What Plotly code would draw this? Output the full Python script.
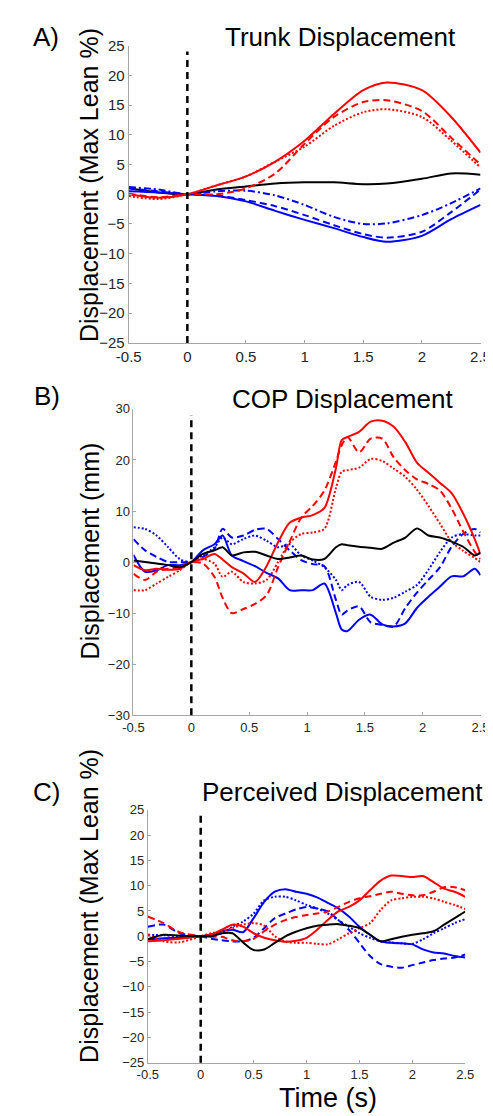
import plotly.graph_objects as go

# ---------------- Panel A: Trunk Displacement ----------------
tA = [-0.5, -0.25, 0, 0.25, 0.5, 0.75, 1.0, 1.25, 1.5, 1.7, 2.0, 2.25, 2.5]
A_red_solid  = [0.0, -0.6, 0, 1.5, 3.0, 5.5, 9.0, 13.5, 17.5, 18.8, 17.5, 13.0, 7.0]
A_red_dash   = [0.1, -0.5, 0, 0.0, 1.0, 3.5, 8.5, 13.0, 15.5, 15.8, 14.0, 9.5, 5.0]
A_red_dot    = [-0.3, -0.8, 0, 1.5, 3.0, 5.5, 8.0, 11.5, 13.8, 14.3, 13.0, 9.0, 4.5]
A_black      = [1.0, 0.3, 0, 0.8, 1.3, 1.8, 2.0, 2.0, 1.7, 1.8, 2.6, 3.5, 3.3]
A_blue_solid = [0.5, 0.3, 0, -0.3, -1.2, -2.8, -4.3, -5.7, -7.2, -8.0, -7.0, -4.2, -1.8]
A_blue_dash  = [1.0, 0.5, 0, -0.2, -1.0, -2.0, -3.5, -5.2, -6.7, -7.3, -6.3, -3.0, 0.8]
A_blue_dashdot = [1.2, 0.8, 0, 0.5, 0.6, -0.2, -1.8, -3.8, -5.0, -4.9, -3.5, -1.5, 1.0]

# ---------------- Panel B: COP Displacement ----------------
tB = [-0.5, -0.4, -0.3, -0.2, -0.1, 0, 0.1, 0.2, 0.27, 0.35, 0.45, 0.55, 0.65, 0.75,
      0.85, 0.95, 1.05, 1.15, 1.25, 1.3, 1.35, 1.45, 1.55, 1.65, 1.75, 1.85, 1.95,
      2.05, 2.15, 2.25, 2.35, 2.45, 2.5]
B_red_solid  = [-0.6, -1.6, -1.3, -1.5, -1.3, 0, 0.6, 1.6, 0.5, -1.0, -2.2, -3.9, -0.8, 3.9,
                7.7, 8.7, 9.2, 10.6, 18.4, 23.9, 24.5, 25.5, 27.5, 27.7, 26.5, 23.5, 19.5,
                17.5, 15.5, 13.5, 9.5, 4.5, 1.5]
B_red_dash   = [-2.3, -3.5, -1.9, -1.3, -1.0, 0, -0.3, -2.9, -7.0, -10.0, -9.2, -8.2, -6.5, -1.0,
                4.0, 8.7, 11.0, 14.0, 19.7, 22.9, 24.5, 21.5, 24.2, 24.2, 20.5, 18.0, 16.2,
                15.3, 14.0, 10.5, 6.0, 2.0, 0.6]
B_red_dot    = [-5.5, -5.5, -4.2, -2.9, -1.6, 0, 0.6, -0.3, -2.9, -1.9, -3.9, -4.2, -3.5, 0.0,
                3.8, 5.5, 5.8, 6.5, 14.5, 17.7, 18.0, 18.5, 20.2, 19.8, 18.3, 16.7, 14.2,
                11.0, 7.5, 4.0, 2.2, 0.8, 0.0]
B_black      = [0.3, 0.0, -0.3, -0.6, -1.0, 0, 1.6, 2.3, 2.9, 1.3, 1.9, 2.0, 1.3, 0.6,
                0.9, 1.3, 0.5, 0.6, 2.9, 3.5, 3.3, 3.0, 2.8, 2.6, 3.8, 4.8, 6.6,
                5.2, 4.8, 4.0, 3.0, 1.3, 1.9]
B_blue_solid = [1.4, -1.9, -1.6, -0.6, -0.6, 0, 2.3, 3.5, 5.2, 1.3, 0.2, -0.8, -2.1, -3.2,
                -5.5, -5.5, -5.5, -4.2, -10.0, -13.2, -13.5, -11.3, -10.3, -12.2, -12.6, -12.0, -9.0,
                -6.8, -4.8, -2.8, -2.8, -1.3, -2.6]
B_blue_dash  = [4.5, 2.3, 1.0, 0.0, 0.0, 0, 1.0, 2.6, 6.5, 4.8, 5.2, 6.3, 6.5, 4.5,
                2.3, 0.4, -0.4, -0.8, -7.4, -10.3, -9.5, -8.7, -11.8, -12.3, -12.6, -9.0, -6.0,
                -3.5, -1.0, 3.0, 5.5, 6.5, 5.8]
B_blue_dot   = [6.8, 6.5, 5.2, 2.9, 0.6, 0, 1.3, 2.9, 4.8, 3.5, 4.5, 5.2, 4.2, 2.9,
                3.5, 1.3, 0.3, -1.0, -3.5, -5.5, -4.5, -3.9, -6.8, -7.4, -7.0, -5.8, -4.5,
                -1.5, 2.0, 4.8, 5.5, 5.2, 5.2]

# ---------------- Panel C: Perceived Displacement ----------------
tC = [-0.5, -0.35, -0.2, 0, 0.1, 0.2, 0.3, 0.4, 0.5, 0.6, 0.7, 0.8, 0.9, 1.0, 1.1, 1.2,
      1.3, 1.4, 1.5, 1.6, 1.7, 1.8, 1.9, 2.0, 2.1, 2.2, 2.3, 2.4, 2.5]
C_red_solid  = [-1.0, -0.8, -0.5, 0, 0.3, 1.3, 2.3, 1.9, 0.6, -0.3, -0.8, -1.1, -0.9, -0.3, 1.3, 3.2,
                4.9, 5.8, 7.1, 9.1, 11.0, 12.0, 11.9, 11.7, 11.9, 10.7, 9.4, 8.8, 7.8]
C_red_dash   = [3.9, 2.6, 0.8, 0, -0.1, -0.1, -0.8, -1.0, -0.5, 1.0, 2.3, 3.2, 3.8, 4.2, 4.5, 4.9,
                5.8, 6.8, 7.5, 7.9, 8.4, 8.8, 8.4, 8.1, 8.1, 8.8, 9.7, 9.7, 9.1]
C_red_dot    = [0.3, -1.0, -1.2, 0, 0.6, 1.0, 1.6, 2.3, 2.6, 2.1, 0.0, -1.0, -1.3, -1.3, -1.5, -1.6,
                -0.6, 0.6, 1.6, 2.6, 5.2, 7.1, 7.5, 7.8, 7.8, 7.5, 6.8, 6.2, 5.4]
C_black      = [-0.6, 0.3, 0.1, 0, 0.0, 0.6, 0.6, -1.2, -2.7, -2.6, -1.3, 0.0, 0.9, 1.6, 2.1, 2.3,
                2.4, 2.1, 1.6, 0.3, -1.0, -0.6, -0.1, 0.3, 0.6, 1.0, 2.3, 3.6, 4.9]
C_blue_solid = [-0.6, -0.4, -0.3, 0, 0.4, 1.0, 1.3, 0.8, 3.6, 6.8, 8.8, 9.3, 8.8, 8.4, 7.7, 6.6,
                5.5, 3.9, 1.9, 0.3, -1.0, -1.3, -1.4, -1.6, -2.6, -3.2, -3.4, -3.9, -4.2]
C_blue_dash  = [1.9, 2.3, 0.6, 0, -0.5, -0.8, -1.0, -1.0, -0.3, 1.6, 3.6, 4.5, 5.3, 5.8, 5.5, 4.9,
                3.2, 1.3, -1.3, -3.9, -5.5, -6.0, -6.2, -5.7, -5.2, -4.7, -4.4, -4.2, -3.6]
C_blue_dot   = [0.3, 0.2, 0.0, 0, 0.3, 0.6, 1.9, 2.9, 4.5, 7.1, 7.8, 7.8, 7.1, 6.2, 5.5, 4.5,
                3.2, 1.9, 0.6, -0.3, -1.0, -1.2, -1.4, -1.5, -0.6, 0.6, 1.6, 2.6, 3.4]

x_ticks = [-0.5, 0, 0.5, 1, 1.5, 2, 2.5]
x_ticklabels = ["-0.5", "0", "0.5", "1", "1.5", "2", "2.5"]
yA_ticks = [-25, -20, -15, -10, -5, 0, 5, 10, 15, 20, 25]
yB_ticks = [-30, -20, -10, 0, 10, 20, 30]

titles = ["Trunk Displacement", "COP Displacement", "Perceived Displacement"]
panel_tags = ["A)", "B)", "C)"]
ylabels = ["Displacement (Max Lean %)", "Displacement (mm)", "Displacement (Max Lean %)"]
xlabel = "Time (s)"

RED, BLUE, BLACK = "#ff0000", "#0000ff", "#000000"
DASH, DOT, DASHDOT = "7px,4px", "2px,2px", "7px,3px,2px,3px"
W, H = 493, 1116
FONT = "Liberation Sans, Arial, Helvetica, sans-serif"

fig = go.Figure()

def add(t, y, color, dash, ax):
    fig.add_trace(go.Scatter(
        x=t, y=y, mode="lines", xaxis="x" + ax, yaxis="y" + ax,
        line=dict(color=color, width=2, dash=dash, shape="spline", smoothing=0.8),
        showlegend=False, hoverinfo="skip"))

# Panel A
add(tA, A_black, BLACK, "solid", "")
add(tA, A_blue_solid, BLUE, "solid", "")
add(tA, A_blue_dash, BLUE, DASH, "")
add(tA, A_blue_dashdot, BLUE, DASHDOT, "")
add(tA, A_red_solid, RED, "solid", "")
add(tA, A_red_dash, RED, DASH, "")
add(tA, A_red_dot, RED, DOT, "")
# Panel B
add(tB, B_blue_solid, BLUE, "solid", "2")
add(tB, B_blue_dash, BLUE, DASH, "2")
add(tB, B_blue_dot, BLUE, DOT, "2")
add(tB, B_red_solid, RED, "solid", "2")
add(tB, B_red_dash, RED, DASH, "2")
add(tB, B_red_dot, RED, DOT, "2")
add(tB, B_black, BLACK, "solid", "2")
# Panel C
add(tC, C_blue_solid, BLUE, "solid", "3")
add(tC, C_blue_dash, BLUE, DASH, "3")
add(tC, C_blue_dot, BLUE, DOT, "3")
add(tC, C_red_solid, RED, "solid", "3")
add(tC, C_red_dash, RED, DASH, "3")
add(tC, C_red_dot, RED, DOT, "3")
add(tC, C_black, BLACK, "solid", "3")

# pixel boxes of each plot area: (left, right, top, bottom)
boxes = [(113, 482, 29, 331), (118, 482, 398, 709), (133, 466, 805, 1062)]
yticks = [yA_ticks, yB_ticks, yA_ticks]
yranges = [[-25, 25], [-30, 30], [-25, 25]]
tick_sizes = [15, 13, 13]

layout = {}
for i, (l, r, tp, bt) in enumerate(boxes):
    sfx = "" if i == 0 else str(i + 1)
    axis_common = dict(showline=True, linecolor="#a6a6a6", linewidth=1, ticks="inside",
                       ticklen=3, tickcolor="#a6a6a6", showgrid=False, zeroline=False,
                       tickfont=dict(family=FONT, size=tick_sizes[i], color="#262626"),
                       mirror=False, fixedrange=True)
    layout["xaxis" + sfx] = dict(axis_common, domain=[l / W, r / W], range=[-0.5, 2.5],
                                 tickvals=x_ticks, ticktext=x_ticklabels,
                                 anchor="y" + sfx)
    layout["yaxis" + sfx] = dict(axis_common, domain=[1 - bt / H, 1 - tp / H], range=yranges[i],
                                 tickvals=yticks[i], anchor="x" + sfx)

fig.update_layout(**layout)

shapes = []
for i in range(3):
    sfx = "" if i == 0 else str(i + 1)
    shapes.append(dict(type="line", xref="x" + sfx, yref=("y" + sfx + " domain") if sfx else "y domain",
                       x0=0, x1=0, y0=0, y1=0.98,
                       line=dict(color="black", width=2.5, dash="7px,5px")))

ann = []
title_pos = [(335, 20), (337, 388), (337, 787)]
tag_pos = [(26, 20), (27, 385), (27, 787)]
ylab_pos = [(72, 171), (72, 542), (72, 903)]
for i in range(3):
    ann.append(dict(text=titles[i], x=title_pos[i][0] / W, y=1 - title_pos[i][1] / H,
                    xref="paper", yref="paper", showarrow=False, xanchor="center", yanchor="middle",
                    font=dict(family=FONT, size=26, color="black")))
    ann.append(dict(text=panel_tags[i], x=tag_pos[i][0] / W, y=1 - tag_pos[i][1] / H,
                    xref="paper", yref="paper", showarrow=False, xanchor="center", yanchor="middle",
                    font=dict(family=FONT, size=26, color="black")))
    ann.append(dict(text=ylabels[i], x=ylab_pos[i][0] / W, y=1 - ylab_pos[i][1] / H,
                    xref="paper", yref="paper", showarrow=False, xanchor="center", yanchor="middle",
                    textangle=-90, font=dict(family=FONT, size=25, color="black")))
ann.append(dict(text=xlabel, x=322 / W, y=1 - 1098 / H, xref="paper", yref="paper",
                showarrow=False, xanchor="center", yanchor="middle",
                font=dict(family=FONT, size=27, color="black")))

fig.update_layout(width=W, height=H, margin=dict(l=0, r=0, t=0, b=0),
                  paper_bgcolor="white", plot_bgcolor="white",
                  shapes=shapes, annotations=ann)

fig.write_html("out.html", config={"displayModeBar": False})
